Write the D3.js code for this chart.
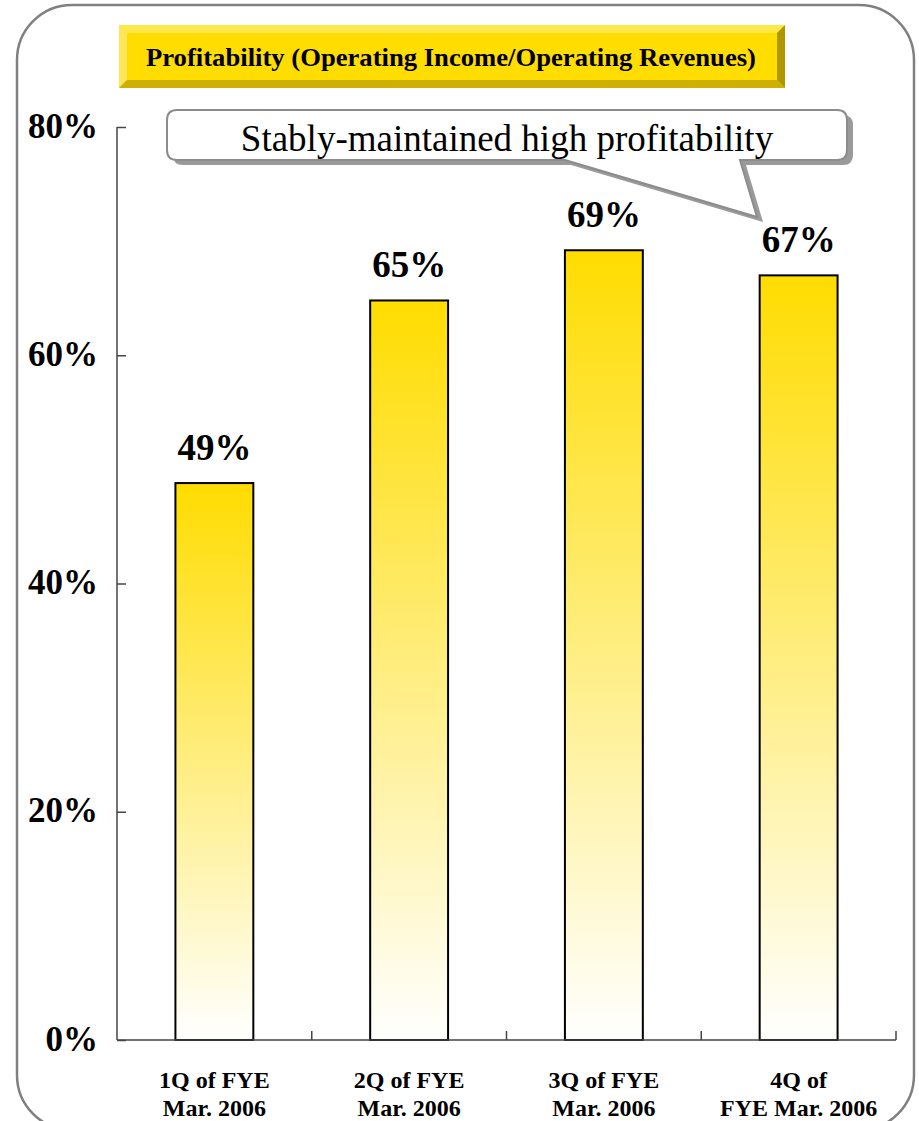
<!DOCTYPE html>
<html>
  <head>
    <meta charset="utf-8" />
    <title>Profitability</title>
    <script src="https://cdn.jsdelivr.net/npm/d3@7"></script>
    <style>
      body {
        margin: 0;
        background: #fff;
      }
      svg text {
        font-family: "Liberation Serif", "Times New Roman", serif;
      }
    </style>
  </head>
  <body>
    <script>
      // data
      var quarters = ["1Q of FYE|Mar. 2006", "2Q of FYE|Mar. 2006", "3Q of FYE|Mar. 2006", "4Q of|FYE Mar. 2006"];
      var margins = [48.8, 64.8, 69.2, 67.0];
      var valueLabels = ["49%", "65%", "69%", "67%"];
      var yTicks = [0, 20, 40, 60, 80];
      var titleText = "Profitability (Operating Income/Operating Revenues)";
      var calloutText = "Stably-maintained high profitability";

      var W = 919,
        H = 1121;

      var svg = d3.select("body").append("svg").attr("width", W).attr("height", H);

      var defs = svg.append("defs");
      var grad = defs
        .append("linearGradient")
        .attr("id", "barGrad")
        .attr("x1", 0)
        .attr("y1", 0)
        .attr("x2", 0)
        .attr("y2", 1);
      grad.append("stop").attr("offset", "0%").attr("stop-color", "#ffdc00");
      grad.append("stop").attr("offset", "100%").attr("stop-color", "#ffffff");

      // outer rounded frame
      svg
        .append("rect")
        .attr("x", 17)
        .attr("y", 5)
        .attr("width", 897)
        .attr("height", 1125)
        .attr("rx", 55)
        .attr("fill", "none")
        .attr("stroke", "#808080")
        .attr("stroke-width", 2.5);

      // title box with bevel
      var tb = { x: 119, y: 25, w: 666, h: 63, b: 8 };
      var tg = svg.append("g");
      tg.append("rect").attr("x", tb.x).attr("y", tb.y).attr("width", tb.w).attr("height", tb.h).attr("fill", "#ffdd00");
      // top bevel
      tg.append("path")
        .attr("d", d3.line()([[tb.x, tb.y], [tb.x + tb.w, tb.y], [tb.x + tb.w - tb.b, tb.y + tb.b], [tb.x + tb.b, tb.y + tb.b]]))
        .attr("fill", "#ffe84a");
      // left bevel
      tg.append("path")
        .attr("d", d3.line()([[tb.x, tb.y], [tb.x + tb.b, tb.y + tb.b], [tb.x + tb.b, tb.y + tb.h - tb.b], [tb.x, tb.y + tb.h]]))
        .attr("fill", "#ffe55a");
      // bottom bevel
      tg.append("path")
        .attr("d", d3.line()([[tb.x, tb.y + tb.h], [tb.x + tb.b, tb.y + tb.h - tb.b], [tb.x + tb.w - tb.b, tb.y + tb.h - tb.b], [tb.x + tb.w, tb.y + tb.h]]))
        .attr("fill", "#cdb000");
      // right bevel
      tg.append("path")
        .attr("d", d3.line()([[tb.x + tb.w, tb.y], [tb.x + tb.w, tb.y + tb.h], [tb.x + tb.w - tb.b, tb.y + tb.h - tb.b], [tb.x + tb.w - tb.b, tb.y + tb.b]]))
        .attr("fill", "#b09600");
      tg.append("text")
        .attr("x", tb.x + tb.w / 2 - 1)
        .attr("y", 66)
        .attr("text-anchor", "middle")
        .attr("font-weight", "bold")
        .attr("font-size", 26)
        .attr("textLength", 610)
        .attr("lengthAdjust", "spacingAndGlyphs")
        .text(titleText);

      // chart area
      var x0 = 117,
        x1 = 896,
        yTop = 127,
        yBot = 1040;

      var x = d3.scaleBand().domain(quarters).range([x0, x1]).paddingInner(0.6).paddingOuter(0.3);
      var xEdges = d3.scaleBand().domain(quarters).range([x0, x1]);
      var y = d3.scaleLinear().domain([0, 80]).range([yBot, yTop]);

      // bars
      svg
        .selectAll("rect.bar")
        .data(margins)
        .enter()
        .append("rect")
        .attr("class", "bar")
        .attr("x", function (d, i) {
          return x(quarters[i]);
        })
        .attr("y", function (d) {
          return y(d);
        })
        .attr("width", x.bandwidth())
        .attr("height", function (d) {
          return yBot - y(d);
        })
        .attr("fill", "url(#barGrad)")
        .attr("stroke", "#000")
        .attr("stroke-width", 2);

      // value labels
      svg
        .selectAll("text.val")
        .data(margins)
        .enter()
        .append("text")
        .attr("class", "val")
        .attr("x", function (d, i) {
          return x(quarters[i]) + x.bandwidth() / 2;
        })
        .attr("y", function (d) {
          return y(d) - 23;
        })
        .attr("text-anchor", "middle")
        .attr("font-weight", "bold")
        .attr("font-size", 37)
        .text(function (d, i) {
          return valueLabels[i];
        });

      // y axis (ticks point inward)
      var yAxis = svg
        .append("g")
        .attr("transform", "translate(" + x0 + ",0)")
        .call(
          d3
            .axisRight(y)
            .tickValues(yTicks)
            .tickSize(9)
            .tickFormat("")
        );
      yAxis.selectAll("path, line").attr("stroke", "#444").attr("stroke-width", 1.5);
      yAxis.select(".domain").attr("d", "M0," + yTop + "V" + yBot);

      svg
        .selectAll("text.ytick")
        .data(yTicks)
        .enter()
        .append("text")
        .attr("class", "ytick")
        .attr("x", 98)
        .attr("y", function (d) {
          return y(d);
        })
        .attr("dy", "0.3em")
        .attr("text-anchor", "end")
        .attr("font-weight", "bold")
        .attr("font-size", 35)
        .text(function (d) {
          return d + "%";
        });

      // x axis baseline with upward ticks at band edges
      var xg = svg.append("g");
      xg.append("line").attr("x1", x0).attr("x2", x1).attr("y1", yBot).attr("y2", yBot).attr("stroke", "#444").attr("stroke-width", 1.5);
      xg.selectAll("line.xt")
        .data(quarters)
        .enter()
        .append("line")
        .attr("class", "xt")
        .attr("x1", function (d) {
          return xEdges(d) + xEdges.bandwidth();
        })
        .attr("x2", function (d) {
          return xEdges(d) + xEdges.bandwidth();
        })
        .attr("y1", yBot)
        .attr("y2", yBot - 9)
        .attr("stroke", "#444")
        .attr("stroke-width", 1.5);

      var xl = svg
        .selectAll("text.xl")
        .data(quarters)
        .enter()
        .append("text")
        .attr("class", "xl")
        .attr("text-anchor", "middle")
        .attr("font-weight", "bold")
        .attr("font-size", 24);
      xl.each(function (d) {
        var parts = d.split("|");
        var cx = xEdges(d) + xEdges.bandwidth() / 2;
        var t = d3.select(this);
        t.append("tspan").attr("x", cx).attr("y", 1088).text(parts[0]);
        t.append("tspan").attr("x", cx).attr("y", 1116).text(parts[1]);
      });

      // callout bubble
      var cb = { l: 167, t: 110, r: 847, b: 160, rr: 10 };
      var tail = { a: 565, tipX: 757, tipY: 217, c: 740 };
      function calloutPath(dx, dy) {
        var p = d3.path();
        p.moveTo(cb.l + cb.rr + dx, cb.t + dy);
        p.lineTo(cb.r - cb.rr + dx, cb.t + dy);
        p.quadraticCurveTo(cb.r + dx, cb.t + dy, cb.r + dx, cb.t + cb.rr + dy);
        p.lineTo(cb.r + dx, cb.b - cb.rr + dy);
        p.quadraticCurveTo(cb.r + dx, cb.b + dy, cb.r - cb.rr + dx, cb.b + dy);
        p.lineTo(tail.c + dx, cb.b + dy);
        p.lineTo(tail.tipX + dx, tail.tipY + dy);
        p.lineTo(tail.a + dx, cb.b + dy);
        p.lineTo(cb.l + cb.rr + dx, cb.b + dy);
        p.quadraticCurveTo(cb.l + dx, cb.b + dy, cb.l + dx, cb.b - cb.rr + dy);
        p.lineTo(cb.l + dx, cb.t + cb.rr + dy);
        p.quadraticCurveTo(cb.l + dx, cb.t + dy, cb.l + cb.rr + dx, cb.t + dy);
        p.closePath();
        return p.toString();
      }
      svg.append("path").attr("d", calloutPath(6, 5)).attr("fill", "#9a9a9a");
      svg
        .append("path")
        .attr("d", calloutPath(0, 0))
        .attr("fill", "#fff")
        .attr("stroke", "#8c8c8c")
        .attr("stroke-width", 2);
      svg
        .append("text")
        .attr("x", 507)
        .attr("y", 151)
        .attr("text-anchor", "middle")
        .attr("font-size", 37)
        .text(calloutText);
    </script>
  </body>
</html>
